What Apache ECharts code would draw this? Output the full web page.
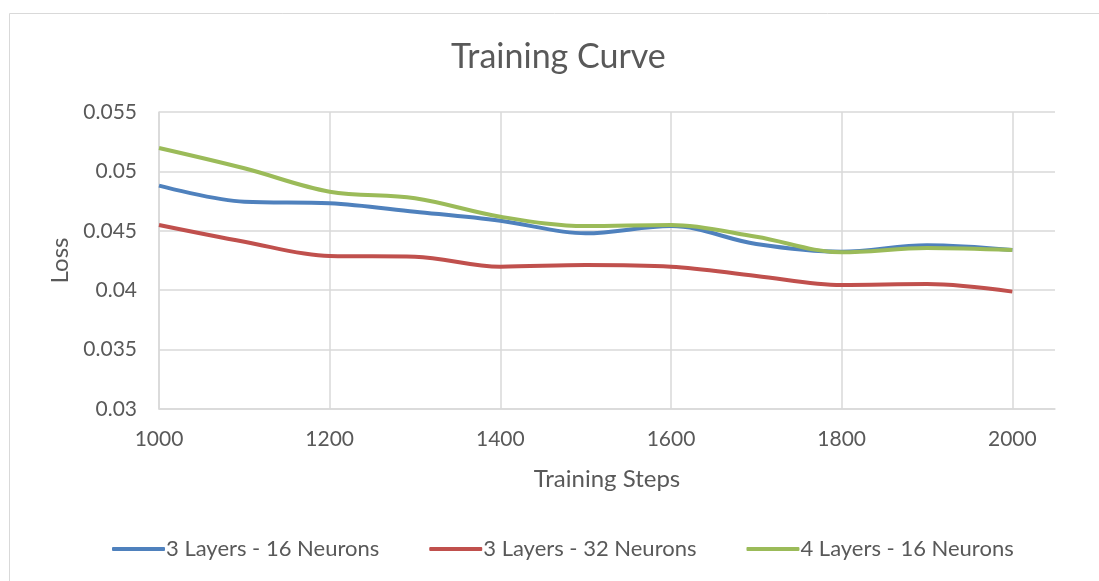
<!DOCTYPE html>
<html>
<head>
<meta charset="utf-8">
<script src="https://cdn.jsdelivr.net/npm/echarts@6/dist/echarts.min.js"></script>
<style>
html,body{margin:0;padding:0;background:#fff;}
#chart{width:1099px;height:581px;}
</style>
</head>
<body>
<div id="chart"></div>
<script>
const steps = [1000, 1100, 1200, 1300, 1400, 1500, 1600, 1700, 1800, 1900, 2000];
const seriesNames = ['3 Layers - 16 Neurons', '3 Layers - 32 Neurons', '4 Layers - 16 Neurons'];
const loss3x16 = [0.0488, 0.04745, 0.04732, 0.04661, 0.04585, 0.04479, 0.0454, 0.04389, 0.04324, 0.04378, 0.04338];
const loss3x32 = [0.04549, 0.04408, 0.04288, 0.04282, 0.04198, 0.04212, 0.04198, 0.0412, 0.04044, 0.04052, 0.03988];
const loss4x16 = [0.05197, 0.05026, 0.04829, 0.04774, 0.04619, 0.0454, 0.04549, 0.0445, 0.04319, 0.04355, 0.04338];
const colors = ['#4F81BD', '#C0504D', '#9BBB59'];

const FONT = 'Lato, "Open Sans", sans-serif';
const TXT = '#595959';
const GRID = '#D9D9D9';

function pairs(vals) { return steps.map((s, i) => [s, vals[i]]); }

const chart = echarts.init(document.getElementById('chart'));
chart.setOption({
  animation: false,
  textStyle: { fontFamily: FONT },
  graphic: [{
    type: 'rect', silent: true,
    shape: { x: 9.5, y: 13.5, width: 1200, height: 700 },
    style: { fill: 'none', stroke: GRID, lineWidth: 1 }
  }],
  title: {
    text: 'Training Curve', left: 446, top: 35,
    textStyle: { fontFamily: FONT, fontSize: 34, fontWeight: 'normal', color: TXT }
  },
  legend: {
    data: seriesNames, bottom: 16, left: 107,
    icon: 'roundRect', itemWidth: 53, itemHeight: 4, itemGap: 50,
    textStyle: { fontFamily: FONT, fontSize: 22, color: TXT, padding: [0, 0, 0, -4] }
  },
  grid: { left: 159, right: 44, top: 112, bottom: 172 },
  xAxis: {
    type: 'value', min: 1000, max: 2050, interval: 200,
    name: 'Training Steps', nameLocation: 'middle', nameGap: 58,
    nameTextStyle: { fontFamily: FONT, fontSize: 24, color: TXT },
    axisLine: { show: true, lineStyle: { color: GRID, width: 1.5 } },
    axisTick: { show: false },
    axisLabel: {
      margin: 20, fontSize: 21, color: TXT, fontFamily: FONT, showMaxLabel: false,
      formatter: v => (v % 200 === 0 ? String(v) : '')
    },
    splitLine: { show: true, showMaxLine: false, lineStyle: { color: GRID, width: 1.5 } }
  },
  yAxis: {
    type: 'value', min: 0.03, max: 0.055, interval: 0.005,
    name: 'Loss', nameLocation: 'middle', nameGap: 87, nameRotate: 90,
    nameTextStyle: { fontFamily: FONT, fontSize: 24, color: TXT },
    axisLine: { show: true, lineStyle: { color: GRID, width: 1.5 } },
    axisTick: { show: false },
    axisLabel: {
      margin: 22, fontSize: 21, color: TXT, fontFamily: FONT,
      formatter: v => String(parseFloat(v.toFixed(3)))
    },
    splitLine: { show: true, lineStyle: { color: GRID, width: 1.5 } }
  },
  series: [loss3x16, loss3x32, loss4x16].map((vals, i) => ({
    name: seriesNames[i], type: 'line', data: pairs(vals),
    smooth: 0.35, symbol: 'none',
    lineStyle: { color: colors[i], width: 4 },
    itemStyle: { color: colors[i] }
  }))
});
</script>
</body>
</html>
